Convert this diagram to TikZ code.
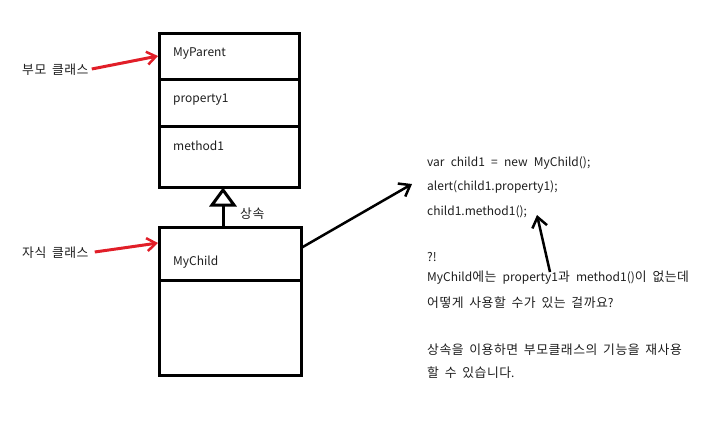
\documentclass[tikz,border=0pt]{standalone}
\usepackage{fontspec}
\setmainfont{Noto Sans CJK KR}[WordSpace=2.3]
\newfontfamily\korfont{Noto Sans CJK KR}[Scale=1.07, LetterSpace=4, WordSpace=1.7]
\newcommand\ko[1]{{\korfont #1}}
\usetikzlibrary{arrows.meta}
\definecolor{arrowred}{RGB}{225,30,40}
\definecolor{txt}{RGB}{30,30,30}
\begin{document}
\begin{tikzpicture}[x=1pt,y=-1pt,
  box/.style={draw=black, line width=3pt, outer sep=0pt, inner sep=0pt, minimum width=140pt, anchor=north west},
  lbl/.style={anchor=west, inner sep=0pt, font=\fontsize{12}{14}\selectfont, text=txt},
  redarrow/.style={draw=arrowred, line width=3pt, -{Straight Barb[length=9pt,width=13pt,line width=2.5pt]}},
  blackarrow/.style={draw=black, line width=2.5pt, -{Straight Barb[length=10pt,width=15pt,line width=2.5pt]}},
  tri/.style={draw=black, line width=3pt, fill=white, line join=miter}]
\useasboundingbox (0,0) rectangle (720,421);
% parent class
\node[box, minimum height=46pt] (p1) at (159,33) {};
\node[box, minimum height=47pt] (p2) at (159,79) {};
\node[box, minimum height=61pt] (p3) at (159,126) {};
\node[lbl] (pname) at (173,54) {MyParent};
\node[lbl] (pprop) at (173,100) {property1};
\node[lbl] (pmeth) at (173,146) {method1};
% child class
\node[box, minimum width=142pt, minimum height=53pt] (c1) at (159,227) {};
\node[box, minimum width=142pt, minimum height=95pt] (c2) at (159,280) {};
\node[lbl] (cname) at (173,262) {MyChild};
% inheritance
\coordinate (base) at (223,205);
\draw[line width=3pt] (c1.north -| base) -- (base);
\draw[tri] (212,205) -- (223,190) -- (234,205) -- cycle;
\node[lbl] (sang) at (240,214) {\ko{상속}};
% labels with red arrows
\node[lbl] (plab) at (22,70) {\ko{부모 클래스}};
\node[lbl] (clab) at (22,253) {\ko{자식 클래스}};
\coordinate (ptip) at (158,56);
\coordinate (ctip) at (158,243);
\draw[redarrow] (plab.east) ++(3,-1) -- (ptip);
\draw[redarrow] (clab.east) ++(6,-1) -- (ctip);
% code text
\node[lbl] (l1) at (427,163) {var child1 = new MyChild();};
\node[lbl] (l2) at (427,187) {alert(child1.property1);};
\node[lbl] (l3) at (427,212) {child1.method1();};
\node[lbl] (l4) at (427,257) {?!};
\node[lbl] (l5) at (427,278) {MyChild\ko{에는} property1\ko{과} method1()\ko{이 없는데}};
\node[lbl] (l6) at (427,303) {\ko{어떻게 사용할 수가 있는 걸까요}?};
\node[lbl] (l7) at (427,350) {\ko{상속을 이용하면 부모클래스의 기능을 재사용}};
\node[lbl] (l8) at (427,373) {\ko{할 수 있습니다}.};
% black arrows
\coordinate (atip) at (412,184);
\coordinate (btip) at (537,215);
\coordinate (bstart) at (550,272);
\draw[blackarrow] (c1.east |- 0,248) -- (atip);
\draw[blackarrow] (bstart) -- (btip);
\end{tikzpicture}
\end{document}
